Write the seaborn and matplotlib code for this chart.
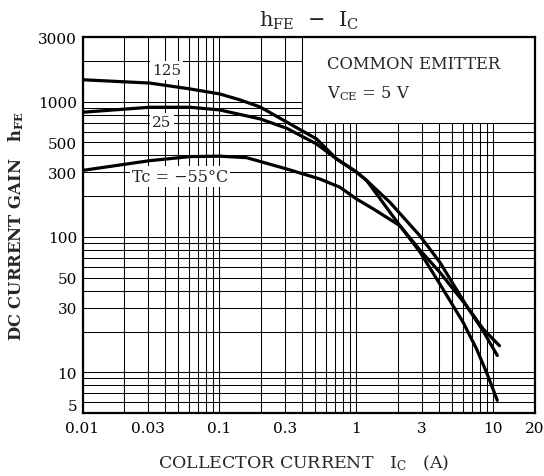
import pandas as pd
import matplotlib
matplotlib.use("Agg")
import matplotlib.pyplot as plt
import seaborn as sns
from matplotlib.ticker import FixedLocator, FuncFormatter, LogLocator, NullFormatter
from matplotlib.patches import Rectangle

# hFE - IC curves (VCE = 5 V)
ic_125 = [0.01, 0.031, 0.061, 0.1, 0.141, 0.198, 0.309, 0.512, 0.717, 1.0, 1.19,
          2.08, 2.91, 4.07, 6.02, 7.54, 8.92, 10.7]
hfe_125 = [1450, 1370, 1240, 1140, 1030, 913, 707, 530, 377, 302, 261,
           121, 77.5, 44.9, 23.4, 14.9, 10, 6.2]

ic_25 = [0.01, 0.031, 0.061, 0.1, 0.198, 0.309, 0.512, 0.717, 1.0, 1.19, 1.76,
         2.91, 4.07, 6.37, 8.43, 10.7]
hfe_25 = [834, 908, 908, 868, 745, 636, 486, 377, 302, 261, 180,
          102, 65, 31, 20.2, 13.3]

ic_m55 = [0.01, 0.031, 0.061, 0.1, 0.158, 0.309, 0.541, 0.758, 1.0, 1.33, 2.08,
          2.91, 4.07, 6.37, 8.43, 11.1]
hfe_m55 = [310, 366, 392, 395, 385, 318, 268, 233, 191, 161, 121,
           80, 54.8, 31, 20.9, 15.7]

x_ticks = [0.01, 0.03, 0.1, 0.3, 1, 3, 10, 20]
y_ticks = [5, 10, 30, 50, 100, 300, 500, 1000, 3000]

df = pd.concat([
    pd.DataFrame({"ic": ic_125, "hfe": hfe_125, "tc": "125"}),
    pd.DataFrame({"ic": ic_25, "hfe": hfe_25, "tc": "25"}),
    pd.DataFrame({"ic": ic_m55, "hfe": hfe_m55, "tc": "-55"}),
])

sns.set_style("white")
plt.rcParams["font.family"] = ["DejaVu Serif"]
plt.rcParams["mathtext.fontset"] = "dejavuserif"

W, H = 544, 477
fig = plt.figure(figsize=(W / 100, H / 100), dpi=100)
ax = fig.add_axes([82.5 / W, 1 - 414 / H, 452 / W, 376 / H])

sns.lineplot(data=df, x="ic", y="hfe", hue="tc", units="tc", estimator=None,
             palette={"125": "black", "25": "black", "-55": "black"},
             lw=2.3, legend=False, ax=ax, zorder=3)

ax.set_xscale("log")
ax.set_yscale("log")
ax.set_xlim(0.01, 20)
ax.set_ylim(5, 3000)

fmt = FuncFormatter(lambda v, p: "%g" % v)
ax.xaxis.set_major_locator(FixedLocator(x_ticks))
ax.yaxis.set_major_locator(FixedLocator(y_ticks))
ax.xaxis.set_major_formatter(fmt)
ax.yaxis.set_major_formatter(fmt)
ax.xaxis.set_minor_locator(LogLocator(base=10, subs=range(1, 10), numticks=20))
ax.yaxis.set_minor_locator(LogLocator(base=10, subs=range(1, 10), numticks=20))
ax.xaxis.set_minor_formatter(NullFormatter())
ax.yaxis.set_minor_formatter(NullFormatter())
ax.tick_params(which="both", length=0, labelsize=11, colors="black")
ax.tick_params(axis="x", pad=6)
ax.tick_params(axis="y", pad=4)
for lab in ax.get_yticklabels():
    if lab.get_text() == "5":
        lab.set_verticalalignment("bottom")

ax.set_axisbelow(True)
ax.grid(which="both", color="black", lw=0.75)
for s in ax.spines.values():
    s.set_visible(True)
    s.set_color("black")
    s.set_linewidth(1.6)
ax.set_xlabel("")
ax.set_ylabel("")

# condition box in the upper right corner
ax.add_patch(Rectangle((0.4, 700), 20 - 0.4, 3000 - 700, facecolor="white",
                       edgecolor="black", lw=0.75, zorder=1))
ax.text(0.54, 0.930, "COMMON EMITTER", transform=ax.transAxes, va="center",
        fontsize=11.8)
ax.text(0.54, 0.851, r"$\mathrm{V_{CE}}$ = 5 V", transform=ax.transAxes,
        va="center", fontsize=11.8)

box = dict(facecolor="white", edgecolor="none", pad=1.5)
ax.text(0.041, 1700, "125", ha="center", va="center", fontsize=11, bbox=box, zorder=4)
ax.text(0.038, 704, "25", ha="center", va="center", fontsize=11, bbox=box, zorder=4)
ax.text(0.0515, 278, "Tc = \u221255\u00b0C", ha="center", va="center",
        fontsize=11.5, bbox=box, zorder=4)

fig.text(308.5 / W, 1 - 21 / H, r"$\mathrm{h_{FE}}$  $-$  $\mathrm{I_C}$",
         ha="center", va="center", fontsize=15)
fig.text(304 / W, 1 - 463 / H, r"COLLECTOR CURRENT   $\mathrm{I_C}$   (A)",
         ha="center", va="center", fontsize=12.5)
fig.text(16 / W, 1 - 226 / H, r"DC CURRENT GAIN   $\mathbf{h_{FE}}$",
         ha="center", va="center", rotation=90, fontsize=11.8, fontweight="bold")

fig.savefig("out.png", dpi=100)
